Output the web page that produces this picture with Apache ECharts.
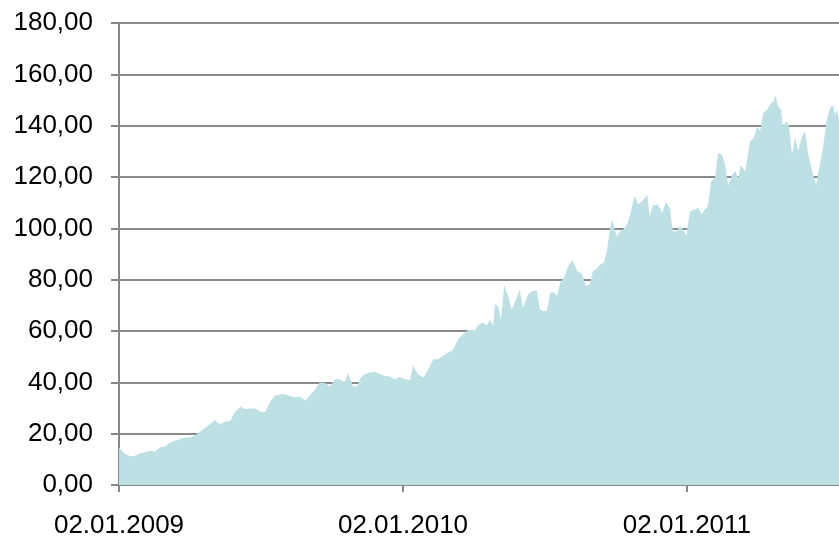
<!DOCTYPE html>
<html>
<head>
<meta charset="utf-8">
<script src="https://cdn.jsdelivr.net/npm/echarts@6/dist/echarts.min.js"></script>
<style>
html,body{margin:0;padding:0;background:#fff;}
#chart{width:839px;height:539px;}
</style>
</head>
<body>
<div id="chart"></div>
<script>
// Start date of the series (x = 0)
var startDate = [2009, 0, 2];
// Days elapsed since 02.01.2009
var daysSinceStart = [0,1,8,14,21,27,33,40,46,53,59,66,72,78,85,91,98,104,111,117,123,130,136,143,149,156,162,168,175,181,188,194,200,207,213,220,226,233,239,245,252,258,265,271,278,284,290,294,301,306,310,316,323,329,335,342,348,355,361,368,374,378,384,391,397,404,410,416,423,429,436,442,449,458,461,468,473,477,481,483,487,491,495,500,505,512,515,519,526,531,537,541,545,550,554,558,563,567,573,577,583,589,595,600,605,609,614,618,623,627,631,634,637,640,644,648,653,655,659,663,667,672,679,682,686,693,698,703,708,712,717,721,725,729,734,740,744,749,753,757,761,766,770,775,779,783,788,792,796,799,805,811,816,820,824,828,833,838,841,844,847,851,853,858,861,865,869,873,878,882,886,892,896,900,905,910,914,918,920,923,925,929];
// Index values
var indexValues = [14.5,14.0,12.1,11.2,11.4,12.4,12.7,13.3,13.0,14.7,15.0,16.6,17.2,17.9,18.5,18.5,19.4,20.7,22.4,23.7,25.3,23.7,24.6,25.0,28.3,30.6,29.5,29.8,29.8,28.5,28.3,32.2,34.7,35.4,35.4,34.7,34.1,34.5,32.8,34.7,37.3,39.9,39.7,38.4,41.2,41.2,39.9,43.5,38.4,38.4,41.5,43.2,43.8,44.1,43.2,42.5,42.3,41.2,42.1,41.2,40.9,46.7,43.2,41.9,44.8,49.0,49.0,50.3,51.6,52.6,56.8,58.7,60.4,60.4,62.2,63.3,62.2,64.5,61.9,70.4,69.7,64.5,77.8,73.6,68.4,73.6,76.2,69.1,74.3,75.5,75.9,68.4,67.8,67.8,74.9,75.2,73.6,78.8,81.4,85.0,87.6,83.3,82.4,77.5,78.1,83.3,84.3,85.9,86.6,91.1,99.5,103.4,99.5,96.9,98.9,99.5,101.5,103.2,108.0,112.8,109.3,110.5,113.1,104.7,108.9,109.3,106.0,110.2,108.0,98.9,98.9,100.8,99.5,97.2,106.7,107.3,108.0,105.4,107.3,108.6,118.3,119.6,129.3,128.7,124.8,116.6,120.9,122.2,119.6,124.8,122.2,133.9,135.2,139.7,137.8,144.9,146.2,148.8,149.4,152.0,147.5,146.2,139.7,141.7,140.0,128.7,135.2,130.0,136.1,137.8,128.7,120.9,117.0,123.5,131.9,143.0,146.9,148.1,144.2,146.2,143.0,144.0];

var startMs = Date.UTC(startDate[0], startDate[1], startDate[2]);
function pad(n){ return (n < 10 ? '0' : '') + n; }
function fmtDate(d){
  if (Math.abs(d % 365) > 0.001) return '';
  var dt = new Date(startMs + d * 86400000);
  return pad(dt.getUTCDate()) + '.' + pad(dt.getUTCMonth() + 1) + '.' + dt.getUTCFullYear();
}

var seriesData = daysSinceStart.map(function(d, i){ return [d, indexValues[i]]; });

var chart = echarts.init(document.getElementById('chart'), null, {renderer: 'canvas'});
chart.setOption({
  animation: false,
  backgroundColor: '#ffffff',
  grid: {left: 119, right: 0, top: 23, bottom: 53, containLabel: false},
  xAxis: {
    type: 'value',
    min: 0,
    max: 925.4,
    interval: 365,
    axisLine: {show: true, lineStyle: {color: '#868686', width: 2}},
    axisTick: {show: true, length: 7, lineStyle: {color: '#868686', width: 2}},
    splitLine: {show: false},
    axisLabel: {
      show: true,
      margin: 28,
      showMaxLabel: false,
      color: '#000',
      fontFamily: 'Liberation Sans, Arial, sans-serif',
      fontSize: 26,
      formatter: fmtDate
    }
  },
  yAxis: {
    type: 'value',
    min: 0,
    max: 180,
    interval: 20,
    axisLine: {show: true, lineStyle: {color: '#868686', width: 2}},
    axisTick: {show: true, length: 8, lineStyle: {color: '#868686', width: 2}},
    splitLine: {show: true, lineStyle: {color: '#8a8a8a', width: 2}},
    axisLabel: {
      margin: 26,
      color: '#000',
      fontFamily: 'Liberation Sans, Arial, sans-serif',
      fontSize: 26,
      formatter: function(v){ return v.toFixed(2).replace('.', ','); }
    }
  },
  series: [{
    type: 'line',
    data: seriesData,
    showSymbol: false,
    symbol: 'none',
    clip: true,
    lineStyle: {width: 0, color: '#bde0e4'},
    itemStyle: {color: '#bde0e4'},
    areaStyle: {color: '#bde0e4', opacity: 1},
    z: 2
  }]
});
</script>
</body>
</html>
